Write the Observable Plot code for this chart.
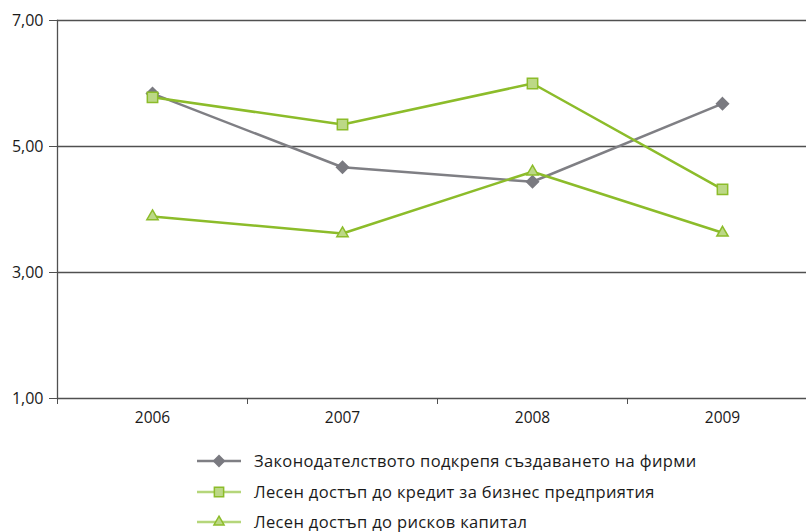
<!DOCTYPE html>
<html lang="bg">
<head>
<meta charset="utf-8">
<script src="https://cdn.jsdelivr.net/npm/d3@7"></script>
<script src="https://cdn.jsdelivr.net/npm/@observablehq/plot@0.6"></script>
<style>
  html, body { margin: 0; padding: 0; background: #fff; }
  body { font-family: "Open Sans", "Noto Sans", sans-serif; width: 806px; height: 532px; overflow: hidden; }
  #legend { position: absolute; left: 197px; top: 446px; }
  .row { display: flex; align-items: center; height: 30.5px; }
  .row svg { width: 44px; height: 16px; margin-right: 13px; }
  .row span { font-size: 16.5px; letter-spacing: 0.35px; line-height: 20px; color: #1a1a1a; }
</style>
</head>
<body>
<div id="chart"></div>
<div id="legend"></div>
<script>
const years = [2006, 2007, 2008, 2009];
const seriesNames = [
  "Законодателството подкрепя създаването на фирми",
  "Лесен достъп до кредит за бизнес предприятия",
  "Лесен достъп до рисков капитал"
];
const legislation = [5.84, 4.67, 4.44, 5.68];
const credit = [5.78, 5.35, 6.00, 4.32];
const ventureCapital = [3.89, 3.62, 4.60, 3.63];
const yTicks = [1, 3, 5, 7];

const seriesValues = [legislation, credit, ventureCapital];
const symbols = ["diamond2", "square2", "triangle2"];
const lineColors = ["#7f7f84", "#8cbc2a", "#8cbc2a"];
const fillColors = ["#7a7a80", "#bcd886", "#bcd886"];
const markStroke = ["#7a7a80", "#8cbc2a", "#8cbc2a"];
const markR = [5.4, 6.6, 5.4];

const data = seriesValues.flatMap((vals, i) => years.map((y, j) => ({series: i, year: y, value: vals[j]})));

const marks = [
  Plot.ruleY(yTicks, {stroke: "#505050", strokeWidth: 1.3}),
  Plot.frame({anchor: "left", stroke: "#505050", strokeWidth: 1.3}),
  Plot.axisY({ticks: yTicks, tickFormat: d => d3.format(".2f")(d).replace(".", ","), tickSize: 8, tickPadding: 6, fontSize: 16, label: null, stroke: "#505050", color: "#1a1a1a"}),
  Plot.axisX({ticks: [2005.5, 2006.5, 2007.5, 2008.5], tickFormat: () => "", tickSize: 6, label: null, stroke: "#505050"}),
  Plot.axisX({ticks: years, tickFormat: d => String(d), tickSize: 0, tickPadding: 13, fontSize: 15.5, label: null, color: "#1a1a1a"})
];
seriesValues.forEach((vals, i) => {
  const d = data.filter(r => r.series === i);
  marks.push(Plot.line(d, {x: "year", y: "value", stroke: lineColors[i], strokeWidth: 2.5}));
});
seriesValues.forEach((vals, i) => {
  const d = data.filter(r => r.series === i);
  marks.push(Plot.dot(d, {x: "year", y: "value", symbol: () => symbols[i], r: markR[i], fill: fillColors[i], stroke: markStroke[i], strokeWidth: 1.5}));
});

const chart = Plot.plot({
  width: 806,
  height: 440,
  marginLeft: 57,
  marginRight: 0,
  marginTop: 20,
  marginBottom: 42,
  style: {fontFamily: "'Open Sans', 'Noto Sans', sans-serif", background: "#fff", overflow: "visible"},
  x: {type: "linear", domain: [2005.5, 2009.5], range: [57, 817]},
  y: {domain: [1, 7]},
  symbol: {type: "identity"},
  marks
});
chart.setAttribute("lang", "bg");
document.getElementById("chart").appendChild(chart);

// HTML legend
const legend = d3.select("#legend");
const legendLine = ["#7f7f84", "#b5d67a", "#b5d67a"];
seriesNames.forEach((name, i) => {
  const row = legend.append("div").attr("class", "row");
  const s = row.append("svg").attr("viewBox", "0 0 44 16");
  s.append("line").attr("x1", 0).attr("x2", 44).attr("y1", 8).attr("y2", 8).attr("stroke", legendLine[i]).attr("stroke-width", 2.5);
  const sym = [d3.symbolDiamond2, d3.symbolSquare2, d3.symbolTriangle2][i];
  s.append("path").attr("transform", "translate(22,8)").attr("d", d3.symbol(sym, Math.PI * markR[i] * markR[i] * 0.8)())
    .attr("fill", fillColors[i]).attr("stroke", markStroke[i]).attr("stroke-width", 1.5);
  row.append("span").attr("lang", "bg").text(name);
});
</script>
</body>
</html>
